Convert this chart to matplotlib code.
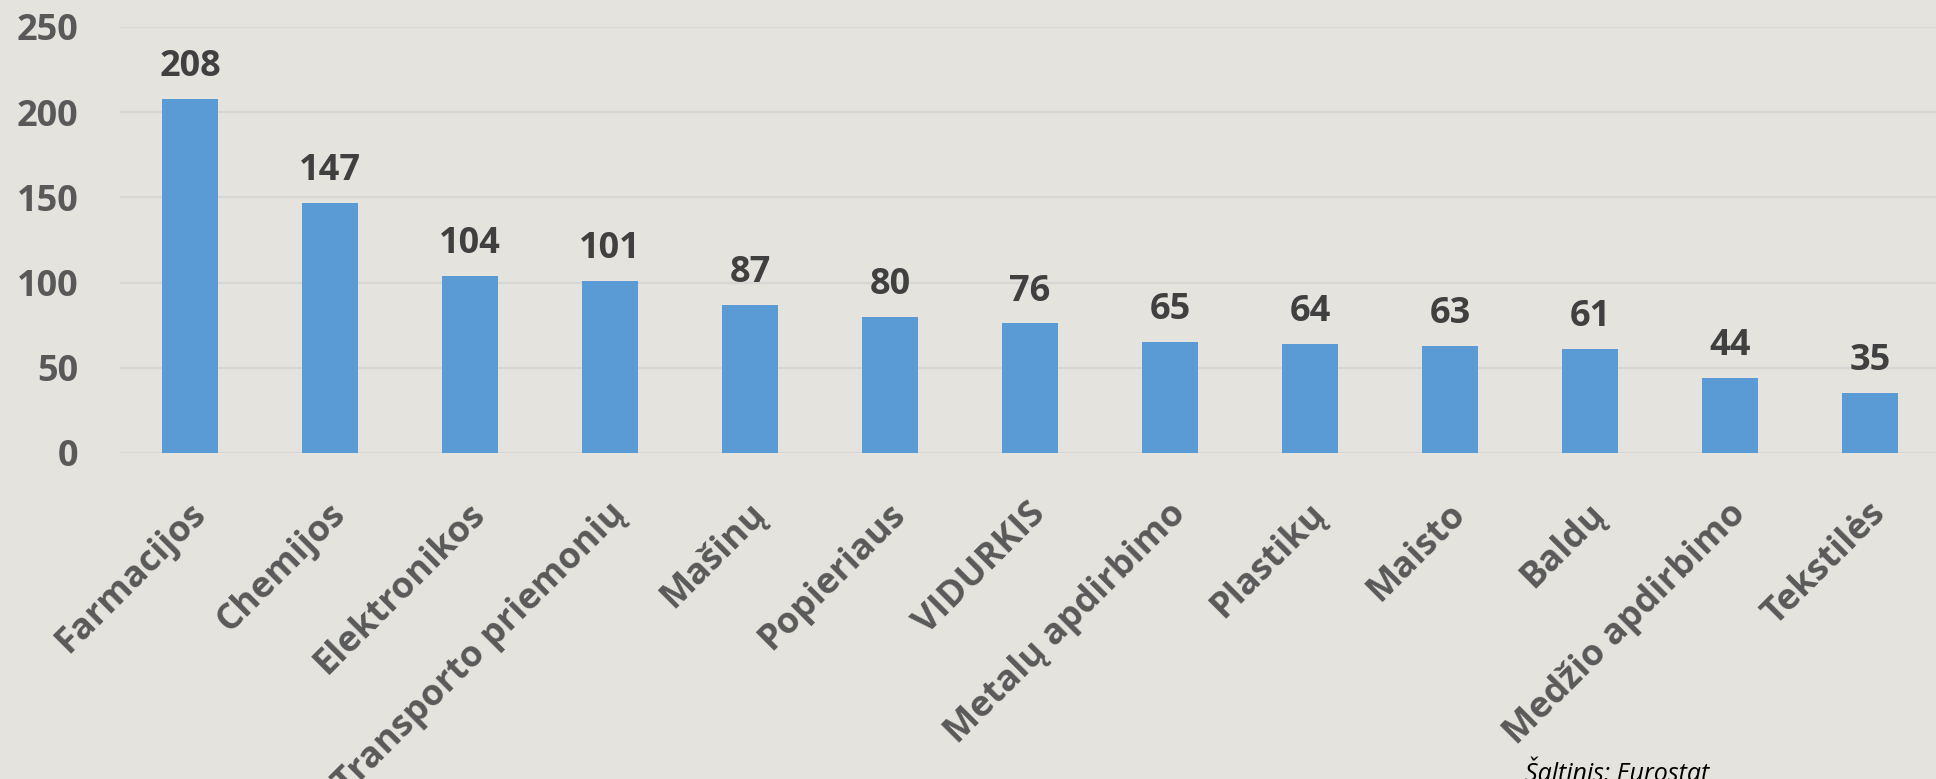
import matplotlib.pyplot as plt
import matplotlib as mpl
from matplotlib.transforms import ScaledTranslation

mpl.rcParams["font.family"] = ["Open Sans", "DejaVu Sans"]

categories = ["Farmacijos", "Chemijos", "Elektronikos", "Transporto priemonių",
              "Mašinų", "Popieriaus", "VIDURKIS", "Metalų apdirbimo", "Plastikų",
              "Maisto", "Baldų", "Medžio apdirbimo", "Tekstilės"]
values = [208, 147, 104, 101, 87, 80, 76, 65, 64, 63, 61, 44, 35]
yticks = [0, 50, 100, 150, 200, 250]

BG = "#e4e3de"
BAR = "#5b9bd5"
GRID = "#d6d6d4"
TICK = "#595959"
VAL = "#404040"

W, H = 1936, 779
fig = plt.figure(figsize=(W / 100, H / 100), dpi=100)
fig.patch.set_facecolor(BG)

left_px, top_px, bottom_px = 120, 27, 453
step = 140.0
ax = fig.add_axes([left_px / W, (H - bottom_px) / H,
                   (W - left_px) / W, (bottom_px - top_px) / H])
ax.set_facecolor(BG)

x = list(range(len(categories)))
ax.bar(x, values, width=0.4, color=BAR, zorder=3)
ax.set_xlim(-0.5, (W - left_px) / step - 0.5)
ax.set_ylim(0, 250)

ax.set_yticks(yticks)
ax.grid(axis="y", color=GRID, lw=1.6, zorder=0)
for s in ax.spines.values():
    s.set_visible(False)
ax.tick_params(axis="y", length=0, pad=30, labelsize=26, labelcolor=TICK)
for t in ax.get_yticklabels():
    t.set_fontweight("bold")

ax.set_xticks(x)
ax.set_xticklabels(categories, fontweight="bold", fontsize=26, color=TICK)
ax.tick_params(axis="x", length=0, pad=0)
# move rotated labels down so their upper end sits under the bar
shift = ScaledTranslation(-2 / 100, -43 / 100, fig.dpi_scale_trans)
for t in ax.get_xticklabels():
    t.set_rotation(45)
    t.set_ha("right")
    t.set_va("top")
    t.set_rotation_mode("anchor")
    t.set_transform(t.get_transform() + shift)

for xi, v in zip(x, values):
    ax.annotate(str(v), (xi, v), xytext=(0, 16.5), textcoords="offset points",
                ha="center", va="baseline", fontsize=26, fontweight="bold",
                color=VAL, annotation_clip=False)

# source note, partly cut by the bottom edge as in the original
fig.text(1525 / W, -2 / H, "Šaltinis: Eurostat", ha="left", va="baseline",
         fontsize=18, style="italic", color="black")

fig.savefig("out.png", facecolor=BG)
